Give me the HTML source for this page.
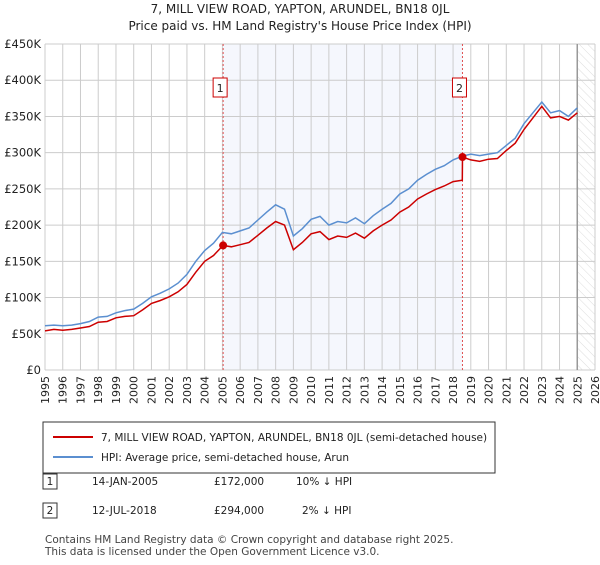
<!DOCTYPE html>
<html><head><meta charset="utf-8"><style>
body{margin:0;background:#fff;font-family:"Liberation Sans","DejaVu Sans",sans-serif;}
svg text{font-family:"DejaVu Sans","Liberation Sans",sans-serif;}
</style></head><body>
<svg id="c" width="600" height="560" xmlns="http://www.w3.org/2000/svg">
<defs><pattern id="hatch" width="6" height="6" patternUnits="userSpaceOnUse" patternTransform="rotate(-45)"><line x1="0" y1="0" x2="0" y2="6" stroke="#ddd" stroke-width="1"/></pattern></defs>
<text x="300" y="13" text-anchor="middle" font-size="12" fill="#222">7, MILL VIEW ROAD, YAPTON, ARUNDEL, BN18 0JL</text>
<text x="300" y="30" text-anchor="middle" font-size="12" fill="#222">Price paid vs. HM Land Registry's House Price Index (HPI)</text>
<g id="plot"></g>
<g>
<rect x="43" y="422" width="452" height="51" fill="#fff" stroke="#333"/>
<line x1="53" y1="437" x2="93" y2="437" stroke="#cc0000" stroke-width="2"/>
<text x="101" y="441" font-size="10.5" fill="#222">7, MILL VIEW ROAD, YAPTON, ARUNDEL, BN18 0JL (semi-detached house)</text>
<line x1="53" y1="457" x2="93" y2="457" stroke="#5b8fd0" stroke-width="2"/>
<text x="101" y="461" font-size="10.5" fill="#222">HPI: Average price, semi-detached house, Arun</text>
</g>
<g font-size="10.5" fill="#222">
<rect x="43" y="474" width="14" height="15" fill="#fff" stroke="#333"/><text x="50" y="485" text-anchor="middle">1</text>
<text x="92" y="485">14-JAN-2005</text><text x="214" y="485">£172,000</text><text x="296" y="485">10% ↓ HPI</text>
<rect x="43" y="503" width="14" height="15" fill="#fff" stroke="#333"/><text x="50" y="514" text-anchor="middle">2</text>
<text x="92" y="514">12-JUL-2018</text><text x="214" y="514">£294,000</text><text x="302" y="514">2% ↓ HPI</text>
</g>
<text x="45" y="543" font-size="10.5" fill="#444">Contains HM Land Registry data © Crown copyright and database right 2025.</text>
<text x="45" y="555" font-size="10.5" fill="#444">This data is licensed under the Open Government Licence v3.0.</text>
</svg>
<script>
const yTicks=[0,50,100,150,200,250,300,350,400,450];
const yTickLabels=["£0","£50K","£100K","£150K","£200K","£250K","£300K","£350K","£400K","£450K"];
const xYears=[1995,1996,1997,1998,1999,2000,2001,2002,2003,2004,2005,2006,2007,2008,2009,2010,2011,2012,2013,2014,2015,2016,2017,2018,2019,2020,2021,2022,2023,2024,2025,2026];
const hpiValues=[61,62,61,62,64,67,73,74,79,82,84,92,101,106,112,120,132,150,165,175,190,188,192,196,207,218,228,222,185,195,208,212,200,205,203,210,202,213,222,230,243,250,262,270,277,282,290,295,298,296,298,300,310,320,340,355,370,355,358,350,362];
const redDates=[1995,1995.5,1996,1996.5,1997,1997.5,1998,1998.5,1999,1999.5,2000,2000.5,2001,2001.5,2002,2002.5,2003,2003.5,2004,2004.5,2005.04,2005.5,2006,2006.5,2007,2007.5,2008,2008.5,2009,2009.5,2010,2010.5,2011,2011.5,2012,2012.5,2013,2013.5,2014,2014.5,2015,2015.5,2016,2016.5,2017,2017.5,2018,2018.52,2018.53,2019,2019.5,2020,2020.5,2021,2021.5,2022,2022.5,2023,2023.5,2024,2024.5,2025];
const redValues=[54,56,55,56,58,60,66,67,72,74,75,83,92,96,101,108,118,135,150,158,172,170,173,176,186,196,205,200,166,176,188,191,180,185,183,189,182,192,200,207,218,225,236,243,249,254,260,262,294,290,288,291,292,303,313,332,348,364,348,350,345,355];
const saleDates=[2005.04,2018.53];
const saleValues=[172,294];
const saleLabels=["1","2"];
const X0=45,X1=595,Y0=370,Y1=44;
const xs=t=>X0+(t-1995)/(2026-1995)*(X1-X0);
const ys=v=>Y0-v/450*(Y0-Y1);
const NS="http://www.w3.org/2000/svg";
const g=document.getElementById('plot');
function mk(tag,attrs,parent){const e=document.createElementNS(NS,tag);for(const k in attrs)e.setAttribute(k,attrs[k]);(parent||g).appendChild(e);return e;}
let r=mk('rect',{x:xs(saleDates[0]),y:Y1,width:xs(saleDates[1])-xs(saleDates[0]),height:Y0-Y1,fill:'#eef2fc',opacity:0.6});


let h=mk('rect',{x:xs(2025),y:Y1,width:X1-xs(2025),height:Y0-Y1,fill:'url(#hatch)'});


xYears.forEach(y=>{let l=mk('line',{x1:xs(y),x2:xs(y),y1:Y1,y2:Y0,stroke:'#ccc','stroke-width':1});


let t=mk('text',{x:0,y:0,'font-size':11,fill:'#222','text-anchor':'end',transform:`translate(${xs(y)+4},${Y0+6}) rotate(-90)`});t.textContent=y;

});
yTicks.forEach((v,i)=>{let l=mk('line',{x1:X0,x2:X1,y1:ys(v),y2:ys(v),stroke:'#ccc','stroke-width':1});


let t=mk('text',{x:X0-4,y:ys(v)+4,'font-size':11.5,fill:'#222','text-anchor':'end'});t.textContent=yTickLabels[i];

});
let vl=mk('line',{x1:xs(2025),x2:xs(2025),y1:Y1,y2:Y0,stroke:'#999','stroke-width':1.5});


saleDates.forEach((d,i)=>{let l=mk('line',{x1:xs(d),x2:xs(d),y1:Y1,y2:Y0,stroke:'#e05050','stroke-width':1,'stroke-dasharray':'2,2'});


let b=mk('rect',{x:xs(d)-7-3,y:78,width:14,height:19,fill:'#fff',stroke:'#cc0000'});


let t=mk('text',{x:xs(d)-3,y:92,'font-size':11,fill:'#222','text-anchor':'middle'});t.textContent=saleLabels[i];

});
let hp=hpiValues.map((v,i)=>`${xs(1995+i*0.5).toFixed(1)},${ys(v).toFixed(1)}`).join(' ');
let p1=mk('polyline',{points:hp,fill:'none',stroke:'#5b8fd0','stroke-width':1.5});


let rp=redValues.map((v,i)=>`${xs(redDates[i]).toFixed(1)},${ys(v).toFixed(1)}`).join(' ');
let p2=mk('polyline',{points:rp,fill:'none',stroke:'#cc0000','stroke-width':1.5});


saleDates.forEach((d,i)=>{let c=mk('circle',{cx:xs(d),cy:ys(saleValues[i]),r:4,fill:'#cc0000'});

});
</script>
</body></html>
